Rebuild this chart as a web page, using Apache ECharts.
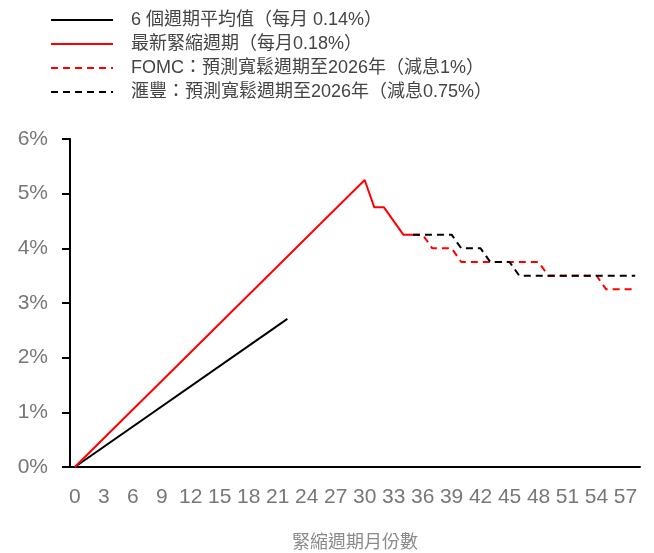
<!DOCTYPE html>
<html>
<head>
<meta charset="utf-8">
<script src="https://cdn.jsdelivr.net/npm/echarts@6/dist/echarts.min.js"></script>
<style>
html,body{margin:0;padding:0;background:#fff;}
#chart{width:654px;height:553px;}
</style>
</head>
<body>
<div id="chart"></div>
<script>
var months = ['0','1','2','3','4','5','6','7','8','9','10','11','12','13','14','15','16','17','18','19','20','21','22','23','24','25','26','27','28','29','30','31','32','33','34','35','36','37','38','39','40','41','42','43','44','45','46','47','48','49','50','51','52','53','54','55','56','57','58'];
var seriesNames = ['6 個週期平均值（每月 0.14%）','最新緊縮週期（每月0.18%）','FOMC：預測寬鬆週期至2026年（減息1%）','滙豐：預測寬鬆週期至2026年（減息0.75%）'];
var avgCycle = [[0,0],[22,2.71]];
var latestCycle = [[0,0],[30,5.25],[31,4.75],[32,4.75],[34,4.25],[35,4.25]];
var fomcPath = [[35,4.25],[36,4.25],[37,4.0],[39,4.0],[40,3.75],[48,3.75],[49,3.5],[54,3.5],[55,3.25],[58,3.25]];
var hsbcPath = [[35,4.25],[39,4.25],[40,4.0],[42,4.0],[43,3.75],[45,3.75],[46,3.5],[58,3.5]];
var yTicks = [0,1,2,3,4,5,6];

var FONT = '"Liberation Sans", Arial, "Noto Sans CJK TC", sans-serif';
var chart = echarts.init(document.getElementById('chart'));
function mk(name, data, color, type){
  return {name:name, type:'line', data:data, symbol:'none', showSymbol:false,
    lineStyle:{color:color, width:2, type:type}, z: type==='solid'?3:2,
    animation:false};
}
chart.setOption({
  animation:false,
  textStyle:{fontFamily:FONT},
  legend:{
    orient:'vertical', left:45, top:6, itemWidth:62, itemHeight:14, itemGap:6,
    data:seriesNames.map(function(n){return {name:n, itemStyle:{opacity:0}};}),
    textStyle:{fontFamily:FONT, fontSize:18, color:'#444', padding:[0,0,0,13]}
  },
  grid:{left:70, right:14, top:139, bottom:86, outerBoundsMode:'none', containLabel:false},
  xAxis:{
    type:'category', data:months, boundaryGap:true,
    name:'緊縮週期月份數', nameLocation:'middle', nameGap:67,
    nameTextStyle:{fontFamily:FONT, fontSize:18, color:'#8a8a8a'},
    axisLine:{lineStyle:{color:'#000', width:2}},
    axisTick:{show:false},
    axisLabel:{interval:2, margin:20, fontSize:21, color:'#777', fontFamily:FONT}
  },
  yAxis:{
    type:'value', min:yTicks[0], max:yTicks[yTicks.length-1], interval:1,
    axisLine:{show:true, lineStyle:{color:'#000', width:2}},
    axisTick:{show:true, length:8, lineStyle:{color:'#000', width:2}},
    splitLine:{show:false},
    axisLabel:{formatter:'{value}%', margin:22, fontSize:21, color:'#777', fontFamily:FONT}
  },
  series:[
    mk(seriesNames[0], avgCycle, '#000000', 'solid'),
    mk(seriesNames[1], latestCycle, '#ff0000', 'solid'),
    mk(seriesNames[2], fomcPath, '#ff0000', [7,5]),
    mk(seriesNames[3], hsbcPath, '#000000', [7,5])
  ]
});
</script>
</body>
</html>
